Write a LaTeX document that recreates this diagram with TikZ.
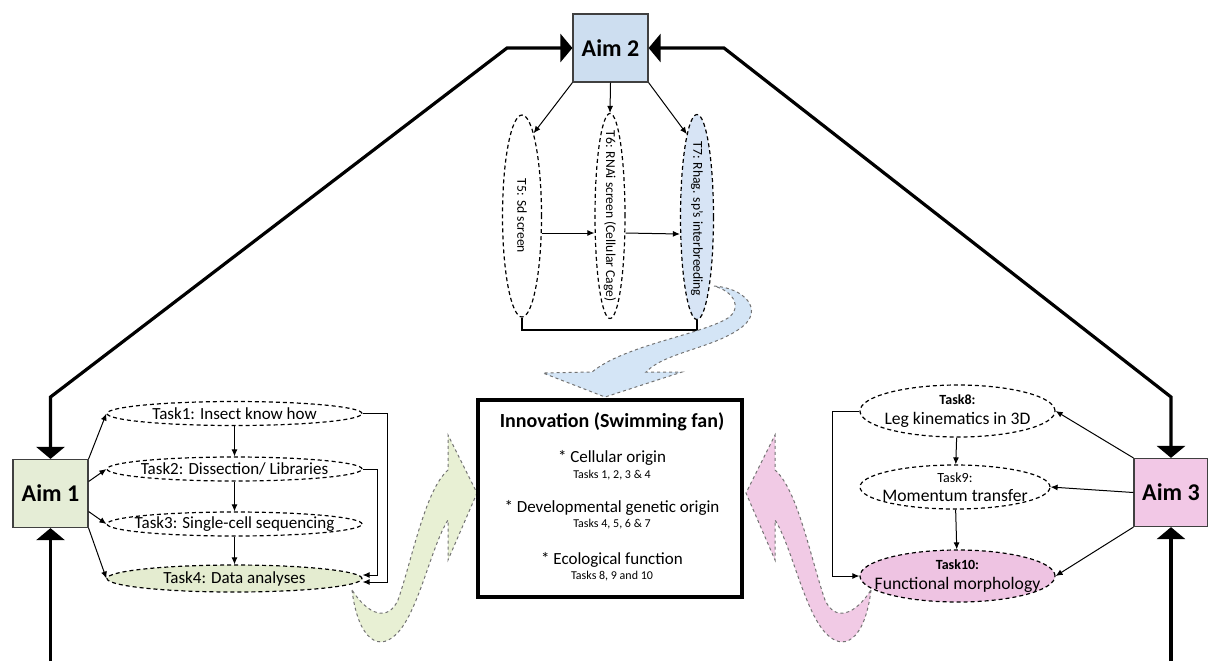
\documentclass[tikz,border=0pt]{standalone}
\usepackage{fontspec}
\setmainfont{Carlito}
\usetikzlibrary{arrows.meta,shapes.geometric}
\definecolor{aimblue}{RGB}{205,222,240}
\definecolor{tblue}{RGB}{215,228,245}
\definecolor{arrblue}{RGB}{212,229,246}
\definecolor{aimgreen}{RGB}{229,237,214}
\definecolor{tgreen}{RGB}{228,236,208}
\definecolor{arrgreen}{RGB}{232,240,212}
\definecolor{aimpink}{RGB}{242,200,230}
\definecolor{tpink}{RGB}{238,195,226}
\definecolor{arrpink}{RGB}{241,202,229}
\begin{document}
\begin{tikzpicture}[x=0.5pt,y=-0.5pt,
  aim/.style={draw=black!75, line width=0.6pt, minimum width=37.5pt, minimum height=34pt, inner sep=0pt, font=\fontsize{12}{14}\selectfont\bfseries},
  task/.style={ellipse, draw, dash pattern=on 2pt off 1.5pt, line width=0.6pt, inner xsep=-15pt, inner ysep=-3pt, font=\fontsize{8.5}{9.5}\selectfont, align=center},
  rtask/.style={task, font=\fontsize{8.8}{9.8}\selectfont},
  bigline/.style={line width=1.6pt, {Triangle[width=14pt,length=6pt]}-{Triangle[width=14pt,length=6pt]}},
  bigend/.style={line width=1.6pt, -{Triangle[width=14pt,length=6pt]}},
  conn/.style={line width=0.5pt, -{Latex[length=3.5pt,width=3pt]}},
  plainline/.style={line width=0.6pt},
  vlabel/.style={rotate=-90, font=\fontsize{6.8}{8}\selectfont},
  arrowshape/.style={draw=black!55, line width=0.5pt, dash pattern=on 1.5pt off 1.5pt},
  innt/.style={font=\fontsize{8.5}{10}\selectfont},
  inns/.style={font=\fontsize{6}{7}\selectfont}
]
\useasboundingbox (0,0) rectangle (1208,661);

% aims
\node[aim, fill=aimblue] (aim2) at (610.5,48) {Aim 2};
\node[aim, fill=aimgreen] (aim1) at (50.5,493.5) {Aim 1};
\node[aim, fill=aimpink, minimum width=37pt] (aim3) at (1171,492.5) {Aim 3};

% thick frame lines
\coordinate (c1) at (50.5,397);
\coordinate (c2) at (507,48);
\coordinate (c3) at (724,48);
\coordinate (c4) at (1171,397);
\coordinate (b1) at (50.5,661);
\coordinate (b3) at (1171,661);
\draw[bigline] (aim1.north) -- (c1) -- (c2) -- (aim2.west);
\draw[bigline] (aim3.north) -- (c4) -- (c3) -- (aim2.east);
\draw[bigend] (b1) -- (aim1.south);
\draw[bigend] (b3) -- (aim3.south);

% Aim 2 tasks (vertical ellipses)
\node[task, minimum width=19.5pt, minimum height=101pt] (t5) at (522,216) {};
\node[vlabel] (t5l) at (522,216) {T5: Sd screen};
\node[task, minimum width=15pt, minimum height=102.5pt] (t6) at (610,216) {};
\node[vlabel] (t6l) at (610,216) {T6: RNAi screen (Cellular Cage)};
\node[task, fill=tblue, minimum width=16.5pt, minimum height=102.5pt] (t7) at (697,217) {};
\node[vlabel] (t7l) at (697,219) {T7: Rhag. sp's interbreeding};

\draw[conn] (aim2.south west) -- (t5.82);
\draw[conn] (aim2.south) -- (t6.north);
\draw[conn] (aim2.south east) -- (t7.97);
\draw[conn] ([yshift=-8.5pt]t5.east) -- ([yshift=-8.5pt]t6.west);
\draw[conn] ([yshift=-8.5pt]t6.east) -- ([yshift=-8.5pt]t7.west);
\draw[plainline] (t5.south) -- (t5.south |- 0,330) -- (t7.south |- 0,330) -- (t7.south);

% Aim 1 tasks
\node[task, minimum width=127.5pt, minimum height=12pt] (k1) at (234.5,413.5) {Task1: Insect know how};
\node[task, minimum width=127.5pt, minimum height=12pt] (k2) at (234.5,469) {Task2: Dissection/ Libraries};
\node[task, minimum width=127.5pt, minimum height=12pt] (k3) at (234.5,524) {Task3: Single-cell sequencing};
\node[task, fill=tgreen, minimum width=127.5pt, minimum height=13.5pt] (k4) at (234.5,578.5) {Task4: Data analyses};
\draw[conn] (k1) -- (k2);
\draw[conn] (k2) -- (k3);
\draw[conn] (k3) -- (k4);
\draw[conn] (aim1.north east) -- (k1.west);
\draw[conn] ([yshift=6pt]aim1.east) -- (k2.west);
\draw[conn] ([yshift=-9pt]aim1.east) -- (k3.west);
\draw[conn] (aim1.south east) -- (k4.west);
\draw[conn] (k1.east) -- ++(25,0) |- ([yshift=-1.75pt]k4.east);
\draw[conn] (k2.east) -- ++(15,0) |- ([yshift=1.75pt]k4.east);

% Aim 3 tasks
\node[rtask, minimum width=97.5pt, minimum height=26pt] (r8) at (957.5,411) {{\fontsize{7}{8}\selectfont\bfseries Task8:}\\Leg kinematics in 3D};
\node[rtask, minimum width=95pt, minimum height=22pt] (r9) at (955,487) {{\fontsize{7}{8}\selectfont Task9:}\\Momentum transfer};
\node[rtask, fill=tpink, minimum width=97.5pt, minimum height=26pt] (r10) at (957.5,576) {{\fontsize{7}{8}\selectfont\bfseries Task10:}\\Functional morphology};
\draw[conn] (r8) -- (r9);
\draw[conn] (r9) -- (r10);
\draw[conn] (r8.west) -- ++(-27,0) |- (r10.west);
\draw[conn] (aim3.north west) -- (r8.east);
\draw[conn] (aim3.west) -- (r9.east);
\draw[conn] (aim3.south west) -- (r10.east);

% curved arrows
\draw[arrowshape, fill=arrblue] (714,286) .. controls (745,288) and (764,310) .. (742,327)
  .. controls (715,348) and (665,352) .. (646,372) -- (682,372) -- (605,397) -- (543,373) -- (592,372)
  .. controls (625,345) and (700,335) .. (728,318) .. controls (742,308) and (735,292) .. (714,286) -- cycle;
\draw[arrowshape, fill=arrgreen] (352,590) .. controls (358,640) and (380,655) .. (400,630)
  .. controls (420,605) and (432,545) .. (448,520) -- (448,560) -- (477,493) -- (448,435) -- (448,470)
  .. controls (425,490) and (412,560) .. (398,600) .. controls (388,622) and (368,615) .. (352,590) -- cycle;
\begin{scope}[shift={(1223,0)}, xscale=-1]
\draw[arrowshape, fill=arrpink] (352,590) .. controls (358,640) and (380,655) .. (400,630)
  .. controls (420,605) and (432,545) .. (448,520) -- (448,560) -- (477,493) -- (448,435) -- (448,470)
  .. controls (425,490) and (412,560) .. (398,600) .. controls (388,622) and (368,615) .. (352,590) -- cycle;
\end{scope}

% innovation box
\node[draw, line width=1.6pt, minimum width=132pt, minimum height=98.5pt, fill=white] (inn) at (610,498.5) {};
\node[font=\fontsize{10}{12}\selectfont\bfseries] (innh) at (612,422) {Innovation (Swimming fan)};
\node[innt] (i1) at (612,458) {* Cellular origin};
\node[inns] (i1s) at (612,475) {Tasks 1, 2, 3 \& 4};
\node[innt] (i2) at (612,508) {* Developmental genetic origin};
\node[inns] (i2s) at (612,524) {Tasks 4, 5, 6 \& 7};
\node[innt] (i3) at (612,560) {* Ecological function};
\node[inns] (i3s) at (612,576) {Tasks 8, 9 and 10};
\end{tikzpicture}
\end{document}
